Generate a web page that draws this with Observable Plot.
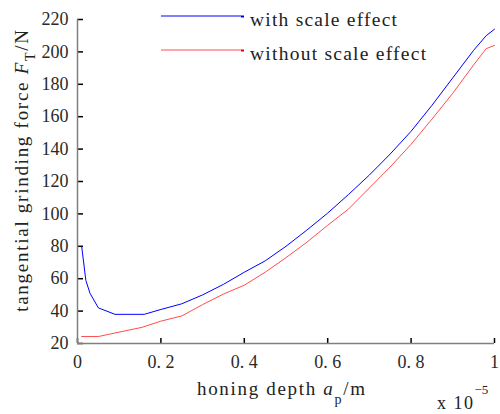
<!DOCTYPE html>
<html>
<head>
<meta charset="utf-8">
<script src="https://cdn.jsdelivr.net/npm/d3@7"></script>
<script src="https://cdn.jsdelivr.net/npm/@observablehq/plot@0.6"></script>
<style>
  html, body { margin: 0; padding: 0; background: white; }
</style>
</head>
<body>
<div id="chart"></div>
<script>
// honing depth (x 1e-5 m) and tangential grinding force (N)
const depthWith = [0.01, 0.02, 0.03, 0.05, 0.09, 0.16, 0.2, 0.25, 0.3, 0.35, 0.4, 0.45, 0.5, 0.55, 0.6, 0.65, 0.7, 0.75, 0.8, 0.85, 0.9, 0.95, 0.98, 1.0];
const forceWith = [80, 59, 51, 42, 38, 38, 41, 44.5, 50, 56.5, 64, 71, 80, 90, 100.5, 112, 124, 137, 151, 167, 184, 201, 210, 214];
const depthWithout = [0.01, 0.05, 0.09, 0.155, 0.2, 0.25, 0.3, 0.35, 0.4, 0.45, 0.5, 0.55, 0.6, 0.65, 0.7, 0.75, 0.8, 0.85, 0.9, 0.95, 0.98, 1.0];
const forceWithout = [24.3, 24.3, 26.5, 30, 33.8, 37, 44, 50.5, 56, 64, 73, 82.5, 93, 103, 116, 129, 143, 158.5, 174.5, 192, 202, 204];
const xTicks = [0, 0.2, 0.4, 0.6, 0.8, 1];
const yTicks = [20, 40, 60, 80, 100, 120, 140, 160, 180, 200, 220];
const seriesNames = ["with scale effect", "without scale effect"];

const withData = depthWith.map((d, i) => ({x: d, y: forceWith[i]}));
const withoutData = depthWithout.map((d, i) => ({x: d, y: forceWithout[i]}));

const font = "'Liberation Serif', 'Times New Roman', serif";
const chart = Plot.plot({
  width: 500,
  height: 414,
  marginLeft: 77,
  marginRight: 6,
  marginTop: 19,
  marginBottom: 71,
  style: {fontFamily: font, fontSize: "18px", color: "#2a2a2a", background: "white"},
  x: {domain: [0, 1]},
  y: {domain: [20, 220]},
  marks: [
    Plot.axisY(yTicks, {tickSize: -6, tickPadding: 15, stroke: "black", strokeWidth: 1.5, label: null, fontSize: 18}),
    Plot.axisX(xTicks, {tickSize: -5, tickPadding: 17, stroke: "black", strokeWidth: 1.5, label: null, fontSize: 18,
      tickFormat: d => (d === 0 || d === 1) ? String(d) : String(d).replace(".", ". ")}),
    Plot.ruleX([0], {stroke: "#808080", strokeWidth: 1.5}),
    Plot.ruleY([20], {stroke: "#808080", strokeWidth: 1.5}),
    Plot.line(withoutData, {x: "x", y: "y", stroke: "#ff4d4d", strokeWidth: 1}),
    Plot.line(withData, {x: "x", y: "y", stroke: "#0000ff", strokeWidth: 1})
  ]
});
document.getElementById("chart").appendChild(chart);

const svg = d3.select(chart);
function fit(sel, target) {
  const node = sel.node();
  const n = node.textContent.length;
  const w = node.getComputedTextLength();
  if (w > 0 && n > 1) sel.attr("letter-spacing", ((target - w) / (n - 1)).toFixed(2));
}

// y axis title
const yt = svg.append("text")
  .attr("transform", "translate(28,170) rotate(-90)")
  .attr("text-anchor", "middle")
  .attr("font-family", font).attr("font-size", 19).attr("fill", "#222");
yt.append("tspan").text("tangential grinding force ");
yt.append("tspan").attr("font-style", "italic").text("F");
yt.append("tspan").attr("dy", 7).attr("font-size", 14).text("T");
yt.append("tspan").attr("dy", -7).text("/N");
fit(yt, 282);

// x axis title
const xt = svg.append("text")
  .attr("x", 197).attr("y", 395)
  .attr("text-anchor", "start")
  .attr("font-family", font).attr("font-size", 19).attr("fill", "#222");
xt.append("tspan").text("honing depth ");
xt.append("tspan").attr("font-style", "italic").text("a");
xt.append("tspan").attr("dy", 9).attr("font-size", 14).text("p");
xt.append("tspan").attr("dy", -9).text("/m");
fit(xt, 168);

// exponent
const ex = svg.append("text")
  .attr("x", 437).attr("y", 409)
  .attr("text-anchor", "start")
  .attr("font-family", font).attr("font-size", 18).attr("letter-spacing", 1.5).attr("fill", "#222");
ex.append("tspan").text("x 10");
ex.append("tspan").attr("dy", -15).attr("font-size", 13).attr("letter-spacing", 0).text("\u22125");

// legend
const legendColors = ["#0000ff", "#ff4d4d"];
const legendEnd = ["#0000cc", "#e00000"];
const legendY = [16, 50];
const legendLen = [147, 176];
seriesNames.forEach((name, i) => {
  svg.append("line")
    .attr("x1", 161).attr("x2", 241).attr("y1", legendY[i]).attr("y2", legendY[i])
    .attr("stroke", legendColors[i]).attr("stroke-width", 1);
  svg.append("line")
    .attr("x1", 241).attr("x2", 244).attr("y1", legendY[i] + 0.5).attr("y2", legendY[i] + 0.5)
    .attr("stroke", legendEnd[i]).attr("stroke-width", 2);
  const t = svg.append("text")
    .attr("x", 250).attr("y", legendY[i] + 10)
    .attr("text-anchor", "start")
    .attr("font-family", font).attr("font-size", 19.5).attr("fill", "#222")
    .text(name);
  fit(t, legendLen[i]);
});
</script>
</body>
</html>
